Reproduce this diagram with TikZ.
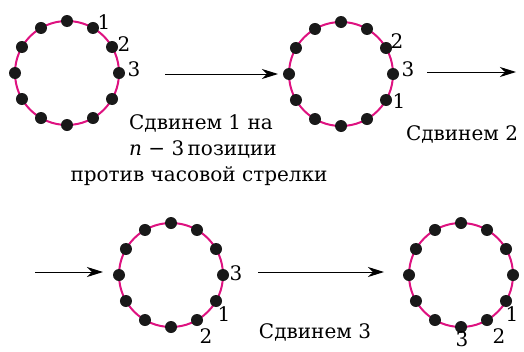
\documentclass[tikz,border=0pt]{standalone}
\usepackage{fontspec}
\setmainfont{DejaVu Serif}
\usetikzlibrary{arrows.meta,calc}
\definecolor{ringcol}{RGB}{222,18,128}
\begin{document}
\begin{tikzpicture}[x=1pt,y=-1pt,
  ring/.style={draw=ringcol,line width=2pt},
  dot/.style={circle,fill=black!90,inner sep=0pt,minimum size=12pt},
  num/.style={font=\fontsize{20}{24}\selectfont,inner sep=0pt},
  txt/.style={font=\fontsize{20}{26}\selectfont,inner sep=0pt,anchor=base},
  arr/.style={-{Stealth[length=16pt,width=10pt,inset=5pt]},line width=1pt}]
\useasboundingbox (0,0) rectangle (524,351);
\foreach \k/\cx/\cy in {1/67/73, 2/341/74, 3/171/275, 4/461/275} {
  \draw[ring] (\cx,\cy) circle[radius=52pt];
  \foreach \i in {0,...,11}
    \node[dot] (c\k d\i) at ($(\cx,\cy)+(\i*30:52pt)$) {};
}
% labels circle 1
\node[num] (l11) at (104,22) {1};
\node[num] (l12) at (124,44) {2};
\node[num] (l13) at (134,69) {3};
% circle 2
\node[num] (l22) at (397,41) {2};
\node[num] (l23) at (408,69) {3};
\node[num] (l21) at (399,101) {1};
% circle 3
\node[num] (l33) at (236,273) {3};
\node[num] (l31) at (224,314) {1};
\node[num] (l32) at (206,336) {2};
% circle 4
\node[num] (l41) at (512,314) {1};
\node[num] (l42) at (499,336) {2};
\node[num] (l43) at (462,339) {3};
% texts
\node[txt] (t1a) at (201,129) {Сдвинем 1 на};
\node[txt] (t1b) at (203,155) {\textit{n} − 3\,позиции};
\node[txt] (t1c) at (199,181) {против часовой стрелки};
\node[txt] (t2) at (462,140) {Сдвинем 2};
\node[txt] (t3) at (315,338) {Сдвинем 3};
% arrows
\coordinate (a1s) at (165,74); \coordinate (a1e) at (278,74);
\coordinate (a2s) at (427,72); \coordinate (a2e) at (516,72);
\coordinate (a3s) at (35,272); \coordinate (a3e) at (103,272);
\coordinate (a4s) at (258,272); \coordinate (a4e) at (384,272);
\draw[arr] (a1s) -- (a1e);
\draw[arr] (a2s) -- (a2e);
\draw[arr] (a3s) -- (a3e);
\draw[arr] (a4s) -- (a4e);
\end{tikzpicture}
\end{document}
